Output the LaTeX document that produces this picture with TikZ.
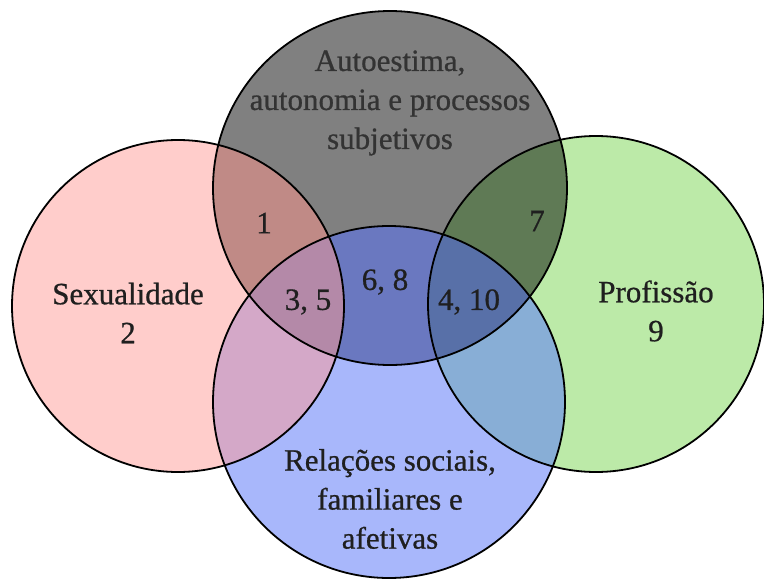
\documentclass[tikz,border=0pt]{standalone}
\usepackage{fontspec}
\setmainfont{Liberation Serif}
\newfontfamily\labfont[FakeBold=0.7]{Liberation Serif}
\begin{document}
\begin{tikzpicture}[x=1pt,y=-1pt,
  lab/.style={align=center,inner sep=0pt,text=black!88,font=\labfont\fontsize{31}{39}\selectfont},
  ring/.style={draw=black,line width=1.8pt}]
\definecolor{cpink}{HTML}{FFCDCB}
\definecolor{cgray}{HTML}{808080}
\definecolor{cgreen}{HTML}{BCEAA8}
\definecolor{cblue}{HTML}{A8B7FB}
\definecolor{cPG}{HTML}{C08A86}
\definecolor{cPB}{HTML}{D4A8C8}
\definecolor{cGB}{HTML}{6A78C0}
\definecolor{cPGB}{HTML}{B489A8}
\definecolor{cVG}{HTML}{5F7A55}
\definecolor{cVB}{HTML}{88AED6}
\definecolor{cGVB}{HTML}{5870A8}
\useasboundingbox (0,0) rectangle (764,581);
\fill[white] (0,0) rectangle (764,581);
\coordinate (P) at (178,306);
\coordinate (G) at (390,188);
\coordinate (V) at (596,304);
\coordinate (B) at (389,402);
\def\rP{166}\def\rG{177}\def\rV{168}\def\rB{176}
% base fills
\fill[cpink] (P) circle (\rP);
\fill[cgray] (G) circle (\rG);
\fill[cgreen] (V) circle (\rV);
\fill[cblue] (B) circle (\rB);
% pairwise
\begin{scope}\clip (P) circle (\rP); \fill[cPG] (G) circle (\rG); \end{scope}
\begin{scope}\clip (P) circle (\rP); \fill[cPB] (B) circle (\rB); \end{scope}
\begin{scope}\clip (G) circle (\rG); \fill[cGB] (B) circle (\rB); \end{scope}
\begin{scope}\clip (V) circle (\rV); \fill[cVG] (G) circle (\rG); \end{scope}
\begin{scope}\clip (V) circle (\rV); \fill[cVB] (B) circle (\rB); \end{scope}
% triples
\begin{scope}\clip (P) circle (\rP); \clip (G) circle (\rG); \fill[cPGB] (B) circle (\rB); \end{scope}
\begin{scope}\clip (V) circle (\rV); \clip (G) circle (\rG); \fill[cGVB] (B) circle (\rB); \end{scope}
% outlines
\draw[ring] (P) circle (\rP);
\draw[ring] (G) circle (\rG);
\draw[ring] (V) circle (\rV);
\draw[ring] (B) circle (\rB);
% labels
\node[lab,text=black!80] (tG) at (390,103) {Autoestima,\\autonomia e processos\\subjetivos};
\node[lab] (tP) at (128,313) {Sexualidade\\2};
\node[lab] (tV) at (656,311) {Profissão\\9};
\node[lab] (tB) at (390,499) {Relações sociais,\\familiares e\\afetivas};
\node[lab] (n1) at (264,223) {1};
\node[lab] (n35) at (308,302) {3, 5};
\node[lab] (n68) at (385,282) {6, 8};
\node[lab] (n410) at (469,302) {4, 10};
\node[lab] (n7) at (537,221) {7};
\end{tikzpicture}
\end{document}
